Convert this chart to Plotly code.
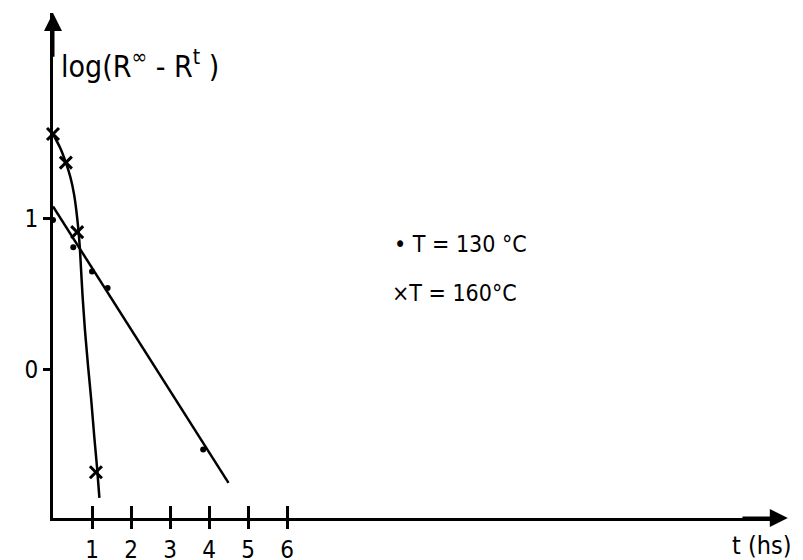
import plotly.graph_objects as go

# 130 °C data (dots) and fitted straight line
t130 = [0.0, 0.52, 1.0, 1.40, 3.85]
y130 = [0.99, 0.81, 0.65, 0.54, -0.53]
fit130_t = [0.0, 4.5]
fit130_y = [1.08, -0.75]

# 160 °C data (crosses) and hand-drawn curve
t160 = [0.0, 0.33, 0.62, 1.10]
y160 = [1.56, 1.37, 0.91, -0.68]
curve160_t = [0.0, 0.18, 0.33, 0.45, 0.54, 0.60, 0.65, 0.69, 0.72, 0.76, 0.82, 0.90, 0.98, 1.06, 1.13, 1.19]
curve160_y = [1.56, 1.47, 1.37, 1.27, 1.16, 1.05, 0.93, 0.80, 0.66, 0.48, 0.26, 0.02, -0.20, -0.45, -0.65, -0.85]

x_ticks = [1, 2, 3, 4, 5, 6]
x_ticktext = ["1", "2", "3", "4", "5", "6"]
y_ticks = [0, 1]
y_ticktext = ["0", "1"]

XMAX = 18.64
YMIN, YMAX = -0.983, 2.361
FONT = "DejaVu Sans Condensed, DejaVu Sans, sans-serif"

fig = go.Figure()
fig.add_trace(go.Scatter(x=fit130_t, y=fit130_y, mode="lines",
                         line=dict(color="black", width=2.5), cliponaxis=False))
fig.add_trace(go.Scatter(x=curve160_t, y=curve160_y, mode="lines",
                         line=dict(color="black", width=2.5, shape="spline", smoothing=0.5),
                         cliponaxis=False))
fig.add_trace(go.Scatter(x=t130, y=y130, mode="markers",
                         marker=dict(symbol="circle", size=6, color="black"), cliponaxis=False))
fig.add_trace(go.Scatter(x=t160, y=y160, mode="markers",
                         marker=dict(symbol="x-thin", size=12, line=dict(color="black", width=3)),
                         cliponaxis=False))
# invisible trace on overlay axis for crossing ticks
fig.add_trace(go.Scatter(x=[0], y=[0], xaxis="x2", mode="markers",
                         marker=dict(opacity=0), showlegend=False, hoverinfo="skip"))

fig.update_layout(
    width=787, height=552,
    margin=dict(l=45, r=15, t=5, b=42),
    paper_bgcolor="white", plot_bgcolor="white",
    showlegend=False,
    font=dict(family=FONT, color="black", size=24),
    xaxis=dict(range=[0, XMAX], showgrid=False, zeroline=False, automargin=False,
               showline=True, linecolor="black", linewidth=3,
               tickmode="array", tickvals=x_ticks, ticktext=x_ticktext,
               ticks="outside", ticklen=8, tickwidth=2.5, tickcolor="black",
               tickfont=dict(size=24, family=FONT)),
    xaxis2=dict(range=[0, XMAX], overlaying="x", side="bottom", showgrid=False,
                zeroline=False, showline=False, tickmode="array", tickvals=x_ticks,
                ticks="inside", ticklen=12, tickwidth=2.5, tickcolor="black",
                showticklabels=False, automargin=False),
    yaxis=dict(range=[YMIN, YMAX], showgrid=False, zeroline=False, automargin=False,
               showline=True, linecolor="black", linewidth=3,
               tickmode="array", tickvals=y_ticks, ticktext=y_ticktext,
               ticks="outside", ticklen=7, tickwidth=2.5, tickcolor="black",
               tickfont=dict(size=24, family=FONT)),
)

# axis arrows
fig.add_annotation(x=0, y=YMAX, ax=0, ay=YMAX - 0.3, xref="x", yref="y",
                   axref="x", ayref="y", showarrow=True, arrowhead=2,
                   arrowsize=1.2, arrowwidth=3, arrowcolor="black", text="")
fig.add_annotation(x=XMAX + 0.2, y=YMIN, ax=XMAX - 1.0, ay=YMIN, xref="x", yref="y",
                   axref="x", ayref="y", showarrow=True, arrowhead=2,
                   arrowsize=1.2, arrowwidth=3, arrowcolor="black", text="")

# axis titles
fig.add_annotation(x=0.15, y=2.02, xref="x", yref="y", xanchor="left", yanchor="middle",
                   showarrow=False, text="log(R<sup>∞</sup> - R<sup>t</sup> )",
                   font=dict(size=30, family=FONT))
fig.add_annotation(x=1.0, y=0.0, xref="paper", yref="paper", xanchor="right", yanchor="middle",
                   xshift=14, yshift=-27, showarrow=False, text="t (hs)",
                   font=dict(size=25, family=FONT))

# legend text
fig.add_annotation(x=8.7, y=0.83, xref="x", yref="y", xanchor="left", yanchor="middle",
                   showarrow=False, text="• T = 130 °C", font=dict(size=23, family=FONT))
fig.add_annotation(x=8.65, y=0.51, xref="x", yref="y", xanchor="left", yanchor="middle",
                   showarrow=False, text="×T = 160°C", font=dict(size=23, family=FONT))

fig.write_html("out.html")
